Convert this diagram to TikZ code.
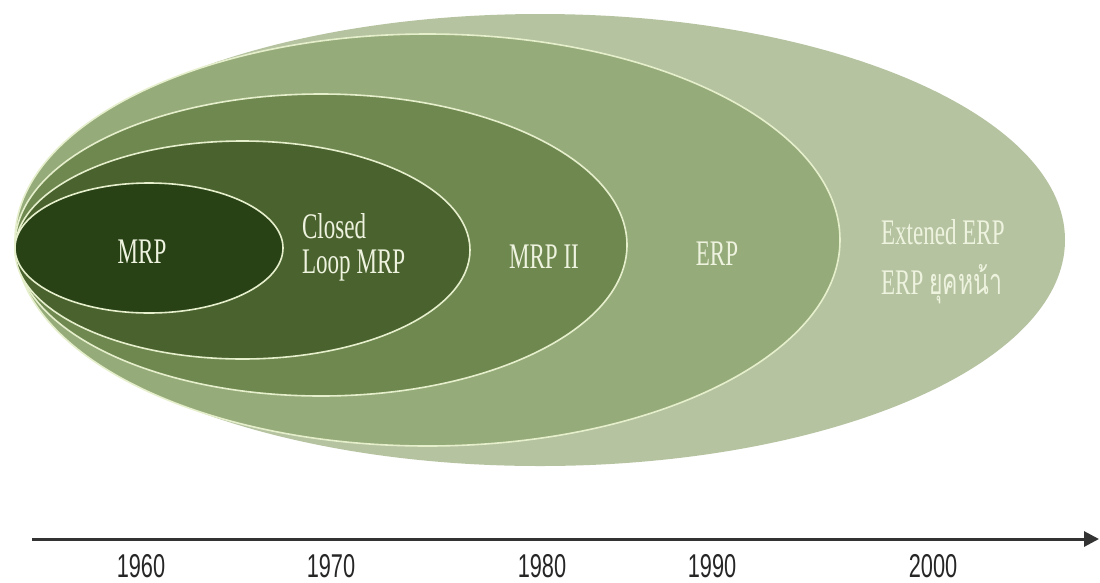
\documentclass[tikz,border=0pt]{standalone}
\usepackage{fontspec}
\setmainfont{Liberation Serif}
\newfontfamily\thaifont[Script=Thai]{Loma}
\newfontfamily\yearfont{Liberation Sans}
\usetikzlibrary{shapes.geometric,arrows.meta}
\definecolor{cOuter}{HTML}{B5C3A0}
\definecolor{cERP}{HTML}{96AB7A}
\definecolor{cMRPII}{HTML}{6F8850}
\definecolor{cClosed}{HTML}{4A622E}
\definecolor{cMRP}{HTML}{284216}
\definecolor{cLine}{HTML}{E6EFCC}
\definecolor{cText}{HTML}{EEF3DF}
\definecolor{cAxis}{HTML}{333333}
\tikzset{
  era/.style={ellipse, inner sep=0pt, draw=cLine, line width=1.6pt},
  lbl/.style={text=cText, font=\fontsize{36}{35}\selectfont, xscale=0.64, inner sep=0pt, align=left},
  yr/.style={text=black!85, font=\yearfont\fontsize{33}{33}\selectfont, xscale=0.66, inner sep=0pt, anchor=base}
}
\begin{document}
\begin{tikzpicture}[x=1pt,y=-1pt]
\useasboundingbox (0,0) rectangle (1100,582);
% ellipses
\node[ellipse, inner sep=0pt, fill=cOuter, minimum width=1050pt, minimum height=452pt] (outer) at (540,240) {};
\node[era, fill=cERP, minimum width=825pt, minimum height=412pt] (erp) at (427.5,240) {};
\node[era, fill=cMRPII, minimum width=612pt, minimum height=302pt] (mrpii) at (321,245) {};
\node[era, fill=cClosed, minimum width=455pt, minimum height=218pt] (closed) at (242.5,250) {};
\node[era, fill=cMRP, minimum width=268pt, minimum height=130pt] (mrp) at (149,248) {};
% labels
\node[lbl, anchor=base] (tmrp) at (142,263) {MRP};
\node[lbl, anchor=base west] (tclosed) at (302,238) {Closed};
\node[lbl, anchor=base west] (tloop) at (302,273) {Loop MRP};
\node[lbl, anchor=base] (tmrpii) at (544,268) {MRP II};
\node[lbl, anchor=base] (terp) at (717,265) {ERP};
\node[lbl, anchor=base west] (text1) at (881,244) {Extened ERP};
\node[lbl, anchor=base west] (text2) at (881,294) {ERP {\thaifont ยุคหน้า}};
% axis
\coordinate (axs) at (32,539);
\coordinate (axe) at (1099,539);
\draw[cAxis, line width=3pt, -{Triangle[length=15pt,width=15pt]}] (axs) -- (axe);
\node[yr] (y1960) at (141,577) {1960};
\node[yr] (y1970) at (331,577) {1970};
\node[yr] (y1980) at (542,577) {1980};
\node[yr] (y1990) at (712,577) {1990};
\node[yr] (y2000) at (933,577) {2000};
\end{tikzpicture}
\end{document}
